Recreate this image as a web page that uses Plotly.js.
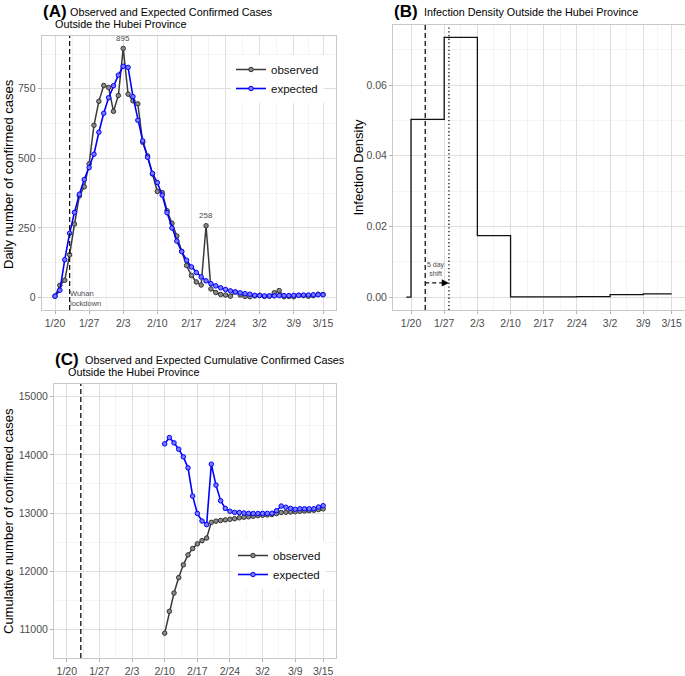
<!DOCTYPE html>
<html>
<head>
<meta charset="utf-8">
<script src="https://cdn.plot.ly/plotly-3.0.1.min.js"></script>
<style>html,body{margin:0;padding:0;background:#fff;}#chart{width:685px;height:676px;}</style>
</head>
<body>
<div id="chart"></div>
<script>
// ---------- data ----------
const dayLabels = ['1/20','1/21','1/22','1/23','1/24','1/25','1/26','1/27','1/28','1/29','1/30','1/31',
  '2/1','2/2','2/3','2/4','2/5','2/6','2/7','2/8','2/9','2/10','2/11','2/12','2/13','2/14','2/15','2/16','2/17','2/18','2/19','2/20','2/21','2/22','2/23','2/24','2/25','2/26','2/27','2/28','2/29',
  '3/1','3/2','3/3','3/4','3/5','3/6','3/7','3/8','3/9','3/10','3/11','3/12','3/13','3/14','3/15'];
const observedDaily = [5,44,62,154,264,365,398,480,619,705,762,755,669,726,
  895,731,707,696,558,509,444,381,377,312,267,221,166,115,79,56,45,258,31,18,11,9,5,20,9,4,3,
  6,8,4,5,17,25,3,4,3,8,7,5,7,12,11];
const expectedDaily = [5,26,136,231,306,371,424,467,515,594,662,718,761,799,
  831,827,722,637,563,504,446,413,368,305,250,203,165,134,110,90,74,60,50,42,35,29,24,20,17,14,12,
  8,7,6,6,6,7,7,7,8,8,9,9,10,10,10];

const densityDates = ['1/19','1/20','1/27','2/3','2/10','2/17','2/24','3/2','3/9','3/15'];
const densityValues = [0,0.0503,0.0735,0.0174,0.00003,0.00005,0.0001,0.0007,0.0009,0.0009];

const cumLabels = dayLabels.slice(21); // 2/10 .. 3/15
const observedCum = [10935,11310,11625,11890,12110,12280,12390,12470,12525,12570,
  12840,12860,12872,12882,12892,12902,12918,12928,12935,12945,
  12955,12962,12968,12975,12990,13010,13014,13018,13022,13030,13036,13041,13048,13060,13072];
const expectedCum = [14189,14297,14206,14097,13966,13777,13291,12994,12863,12800,
  13840,13480,13211,13080,13030,13011,13008,13000,12994,12992,
  12992,12994,12994,12996,13040,13120,13100,13080,13065,13074,13074,13072,13074,13103,13126];

const tickLabels = ['1/20','1/27','2/3','2/10','2/17','2/24','3/2','3/9','3/15'];
const lockdownDay = '1/23';
const shiftedDay = '1/28';

// ---------- helpers ----------
function iso(l){ const p = l.split('/'); return '2020-' + p[0].padStart(2,'0') + '-' + p[1].padStart(2,'0'); }
const W = 685, H = 676;
const px = x => x / W;
const py = y => 1 - y / H;
const tickVals = tickLabels.map(iso);
const minorVals = [];
for (let i = 0; i < tickVals.length - 1; i++) {
  const a = new Date(tickVals[i] + 'T00:00:00Z').getTime();
  const b = new Date(tickVals[i+1] + 'T00:00:00Z').getTime();
  minorVals.push(new Date((a + b) / 2).toISOString().slice(0,19).replace('T',' '));
}
const FONT = 'Liberation Sans, Arial, Helvetica, sans-serif';
const GRID = '#dedede';
const MINOR = '#ececec';
const TICKC = '#4d4d4d';

function xAxis(domain, range, anchor) {
  return {
    type: 'date', domain: domain, range: range, anchor: anchor,
    tickmode: 'array', tickvals: tickVals, ticktext: tickLabels,
    showgrid: true, gridcolor: GRID, gridwidth: 1,
    minor: { tickmode: 'array', tickvals: minorVals, showgrid: true, gridcolor: MINOR, gridwidth: 0.6, ticks: '' },
    ticks: 'outside', ticklen: 3, tickcolor: '#b3b3b3', tickwidth: 1,
    tickfont: { family: FONT, size: 10.5, color: TICKC },
    showline: true, mirror: true, linecolor: '#c8c8c8', linewidth: 1,
    zeroline: false, fixedrange: true
  };
}
function yAxis(domain, range, tv, minorTv, fmt, anchor) {
  return {
    domain: domain, range: range, anchor: anchor,
    tickmode: 'array', tickvals: tv, tickformat: fmt,
    showgrid: true, gridcolor: GRID, gridwidth: 1,
    minor: { tickmode: 'array', tickvals: minorTv, showgrid: true, gridcolor: MINOR, gridwidth: 0.6, ticks: '' },
    ticks: 'outside', ticklen: 3, tickcolor: '#b3b3b3', tickwidth: 1,
    tickfont: { family: FONT, size: 10.5, color: TICKC },
    showline: true, mirror: true, linecolor: '#c8c8c8', linewidth: 1,
    zeroline: false, fixedrange: true
  };
}

const obsStyle = { line: { color: '#3a3a3a', width: 1.5 }, marker: { symbol: 'circle', size: 4.5, color: '#8a8a8a', line: { color: '#333', width: 1 } } };
const expStyle = { line: { color: '#0000ff', width: 1.6 }, marker: { symbol: 'circle', size: 4.5, color: '#7b7bff', line: { color: '#0000ff', width: 1 } } };

const traces = [
  Object.assign({ x: dayLabels.map(iso), y: observedDaily, type: 'scatter', mode: 'lines+markers', name: 'observed', legendgroup: 'o1', xaxis: 'x', yaxis: 'y', legend: 'legend' }, obsStyle),
  Object.assign({ x: dayLabels.map(iso), y: expectedDaily, type: 'scatter', mode: 'lines+markers', name: 'expected', legendgroup: 'e1', xaxis: 'x', yaxis: 'y', legend: 'legend' }, expStyle),
  { x: densityDates.map(iso), y: densityValues, type: 'scatter', mode: 'lines', line: { shape: 'hv', color: '#111', width: 1.3 }, xaxis: 'x2', yaxis: 'y2', showlegend: false },
  Object.assign({ x: cumLabels.map(iso), y: observedCum, type: 'scatter', mode: 'lines+markers', name: 'observed', legendgroup: 'o2', xaxis: 'x3', yaxis: 'y3', legend: 'legend2' }, obsStyle),
  Object.assign({ x: cumLabels.map(iso), y: expectedCum, type: 'scatter', mode: 'lines+markers', name: 'expected', legendgroup: 'e2', xaxis: 'x3', yaxis: 'y3', legend: 'legend2' }, expStyle)
];

const iPeak = observedDaily.indexOf(Math.max(...observedDaily));
const iSpike = dayLabels.indexOf('2/20');

function ann(text, x, y, size, opts) {
  return Object.assign({ text: text, xref: 'paper', yref: 'paper', x: px(x), y: py(y), xanchor: 'left', yanchor: 'middle',
    showarrow: false, font: { family: FONT, size: size, color: '#000' } }, opts || {});
}

const annotations = [
  ann('<b>(A)</b>', 40.5, 11.5, 17),
  ann('Observed and Expected Confirmed Cases', 67.5, 12, 10.8),
  ann('Outside the Hubei Province', 52.5, 23.7, 10.8),
  ann('<b>(B)</b>', 392, 11.5, 17),
  ann('Infection Density Outside the Hubei Province', 422, 12, 10.8),
  ann('<b>(C)</b>', 52.5, 359, 17),
  ann('Observed and Expected Cumulative Confirmed Cases', 82.5, 360, 10.8),
  ann('Outside the Hubei Province', 65.5, 371.7, 10.8),
  ann('Daily number of confirmed cases', 8, 174, 13, { xanchor: 'center', textangle: -90 }),
  ann('Infection Density', 357.5, 167, 13, { xanchor: 'center', textangle: -90 }),
  ann('Cumulative number of confirmed cases', 8, 521, 13, { xanchor: 'center', textangle: -90 }),
  // data labels
  { text: String(observedDaily[iPeak]), xref: 'x', yref: 'y', x: iso(dayLabels[iPeak]), y: observedDaily[iPeak], yshift: 10, showarrow: false, font: { family: FONT, size: 8, color: '#4d4d4d' } },
  { text: String(observedDaily[iSpike]), xref: 'x', yref: 'y', x: iso(dayLabels[iSpike]), y: observedDaily[iSpike], yshift: 10, showarrow: false, font: { family: FONT, size: 8, color: '#4d4d4d' } },
  { text: 'Wuhan<br>lockdown', xref: 'x', yref: 'y', x: iso(lockdownDay), y: 0, xanchor: 'left', yanchor: 'middle', xshift: -2, yshift: -1, align: 'left', showarrow: false, font: { family: FONT, size: 7.5, color: '#4d4d4d' } },
  { text: '5 day<br>shift', xref: 'x2', yref: 'y2', x: '2020-01-25 06:00', y: 0.0078, xanchor: 'center', yanchor: 'middle', showarrow: false, font: { family: FONT, size: 7, color: '#4d4d4d' } },
  { text: '', xref: 'x2', yref: 'y2', x: iso(shiftedDay), y: 0.004, axref: 'x2', ayref: 'y2', ax: '2020-01-27 06:00', ay: 0.004, showarrow: true, arrowhead: 2, arrowsize: 1.2, arrowwidth: 1.2, arrowcolor: '#000', standoff: 0 }
];

const shapes = [
  { type: 'line', xref: 'x', yref: 'y domain', x0: iso(lockdownDay), x1: iso(lockdownDay), y0: 0, y1: 1, line: { color: '#111', width: 1.3, dash: '5px,3px' } },
  { type: 'line', xref: 'x2', yref: 'y2 domain', x0: iso(lockdownDay), x1: iso(lockdownDay), y0: 0, y1: 1, line: { color: '#111', width: 1.3, dash: '5px,3px' } },
  { type: 'line', xref: 'x2', yref: 'y2 domain', x0: iso(shiftedDay), x1: iso(shiftedDay), y0: 0, y1: 1, line: { color: '#111', width: 1.3, dash: '1.3px,2.4px' } },
  { type: 'line', xref: 'x2', yref: 'y2', x0: iso(lockdownDay), x1: '2020-01-27 06:00', y0: 0.004, y1: 0.004, line: { color: '#111', width: 1.2, dash: '4px,3px' } },
  { type: 'line', xref: 'x3', yref: 'y3 domain', x0: iso(lockdownDay), x1: iso(lockdownDay), y0: 0, y1: 1, line: { color: '#111', width: 1.3, dash: '5px,3px' } }
];

const legendBase = { bgcolor: '#ffffff', borderwidth: 0, font: { family: FONT, size: 11.5, color: '#111' }, xanchor: 'left', yanchor: 'top', itemwidth: 30, tracegroupgap: 1.5, traceorder: 'normal' };

const layout = {
  width: W, height: H, margin: { l: 0, r: 0, t: 0, b: 0 },
  paper_bgcolor: '#ffffff', plot_bgcolor: '#ffffff',
  font: { family: FONT },
  xaxis: xAxis([px(41.6), px(336.4)], ['2020-01-17 06:00', '2020-03-17 18:00'], 'y'),
  yaxis: yAxis([py(310), py(36)], [-44.75, 939.75], [0, 250, 500, 750], [125, 375, 625, 875], 'd', 'x'),
  xaxis2: xAxis([px(393), 1], ['2020-01-16 04:48', '2020-03-17 19:12'], 'y2'),
  yaxis2: yAxis([py(310), py(25)], [-0.00367, 0.077], [0, 0.02, 0.04, 0.06], [0.01, 0.03, 0.05, 0.07], '.2f', 'x2'),
  xaxis3: xAxis([px(54), px(336)], ['2020-01-17 06:00', '2020-03-17 18:00'], 'y3'),
  yaxis3: yAxis([py(658), py(384)], [10508, 15218], [11000, 12000, 13000, 14000, 15000], [11500, 12500, 13500, 14500], 'd', 'x3'),
  legend: Object.assign({}, legendBase, { x: px(231), y: py(55) }),
  legend2: Object.assign({}, legendBase, { x: px(233), y: py(541) }),
  annotations: annotations,
  shapes: shapes,
  showlegend: true
};

Plotly.newPlot('chart', traces, layout, { staticPlot: true, displayModeBar: false });
</script>
</body>
</html>
